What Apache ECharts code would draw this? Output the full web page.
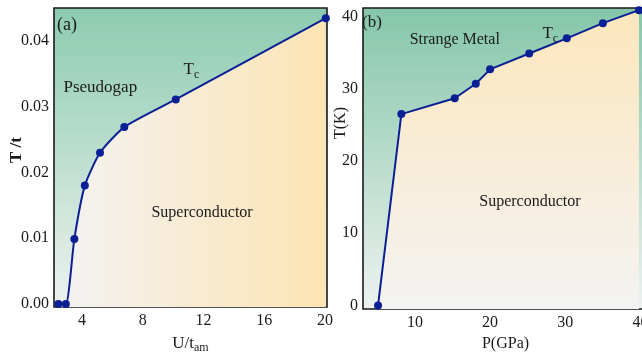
<!DOCTYPE html>
<html>
<head>
<meta charset="utf-8">
<script src="https://cdn.jsdelivr.net/npm/echarts@6/dist/echarts.min.js"></script>
<style>html,body{margin:0;padding:0;background:#fff}#c{width:642px;height:360px}</style>
</head>
<body>
<div id="c"></div>
<script>
// Panel (a)
const leftU = [2.44, 2.93, 3.49, 4.18, 5.18, 6.78, 10.17, 20.05];
const leftT = [0, 0, 0.0099, 0.018, 0.023, 0.0269, 0.0311, 0.04345];
const leftXTicks = [4, 8, 12, 16, 20];
const leftYTicks = [0, 0.01, 0.02, 0.03, 0.04];
// Panel (b)
const rightP = [5.1, 8.2, 15.3, 18.1, 20.0, 25.2, 30.2, 35.0, 39.8];
const rightT = [0, 26.5, 28.7, 30.7, 32.7, 34.9, 37.0, 39.1, 40.9];
const rightXTicks = [10, 20, 30, 40];
const rightYTicks = [0, 10, 20, 30, 40];

const FONT = 'Liberation Serif';
const TXT = '#1a1a1a';
const LINE = '#0b1f94';

const greenGrad = new echarts.graphic.LinearGradient(0, 0, 0, 1, [
  {offset: 0, color: '#8ccbb0'},
  {offset: 1, color: '#eef2f0'}
]);
const greenGrad2 = new echarts.graphic.LinearGradient(0, 0, 0, 1, [
  {offset: 0, color: '#84c6aa'},
  {offset: 1, color: '#eef2f0'}
]);
const scGradA = new echarts.graphic.LinearGradient(0, 0, 1, 0, [
  {offset: 0, color: '#f3f3f3'},
  {offset: 1, color: '#fde4b4'}
]);
const scGradB = new echarts.graphic.LinearGradient(0, 0, 0, 1, [
  {offset: 0, color: '#fde6bc'},
  {offset: 1, color: '#f3f3f3'}
]);

const tickLabel = {fontFamily: FONT, fontSize: 16, color: TXT};
const annot = (coord, text, size) => ({
  coord: coord, symbol: 'circle', symbolSize: 1,
  itemStyle: {color: 'rgba(0,0,0,0)'},
  label: {show: true, position: 'inside', formatter: text, fontFamily: FONT, fontSize: size, color: TXT,
    rich: {
      n: {fontFamily: FONT, fontSize: size, color: TXT},
      s: {fontFamily: FONT, fontSize: size * 0.7, color: TXT, padding: [10, 0, 0, 0]}
    }}
});

const option = {
  animation: false,
  grid: [
    {left: 54, top: 8, width: 273, height: 299, show: true, backgroundColor: greenGrad,
      borderColor: '#1a1a1a', borderWidth: 1.6, outerBoundsMode: 'none', containLabel: false},
    {left: 363, top: 8, width: 285, height: 301, show: true, backgroundColor: greenGrad2,
      borderColor: '#1a1a1a', borderWidth: 1.6, outerBoundsMode: 'none', containLabel: false}
  ],
  graphic: [
    {type: 'text', x: 17, y: 150, rotation: Math.PI / 2, style: {text: 'T /t', fontFamily: FONT,
      fontSize: 17, fontWeight: 'bold', fill: TXT, align: 'center', verticalAlign: 'middle'}},
    {type: 'text', x: 341, y: 123, rotation: Math.PI / 2, style: {text: 'T(K)', fontFamily: FONT,
      fontSize: 16, fill: TXT, align: 'center', verticalAlign: 'middle'}}
  ],
  xAxis: [
    {type: 'value', gridIndex: 0, min: 2.15, max: 20.13,
      axisLine: {show: false}, axisTick: {show: false}, splitLine: {show: false},
      axisLabel: Object.assign({margin: 6, customValues: leftXTicks}, tickLabel),
      name: '{n|U/t}{s|am}', nameLocation: 'middle', nameGap: 27,
      nameTextStyle: {rich: {
        n: {fontFamily: FONT, fontSize: 17, color: TXT},
        s: {fontFamily: FONT, fontSize: 12, color: TXT, padding: [8, 0, 0, 0]}
      }}},
    {type: 'value', gridIndex: 1, min: 3.1, max: 41,
      axisLine: {show: false}, axisTick: {show: false}, splitLine: {show: false},
      axisLabel: Object.assign({margin: 6, customValues: rightXTicks}, tickLabel),
      name: 'P(GPa)', nameLocation: 'middle', nameGap: 27,
      nameTextStyle: {fontFamily: FONT, fontSize: 16, color: TXT}}
  ],
  yAxis: [
    {type: 'value', gridIndex: 0, min: -0.00045, max: 0.045,
      axisLine: {show: false}, axisTick: {show: false}, splitLine: {show: false},
      axisLabel: Object.assign({margin: 5, customValues: leftYTicks,
        formatter: v => v.toFixed(2)}, tickLabel)},
    {type: 'value', gridIndex: 1, min: -0.5, max: 41.2,
      axisLine: {show: false}, axisTick: {show: false}, splitLine: {show: false},
      axisLabel: Object.assign({margin: 5, customValues: rightYTicks}, tickLabel)}
  ],
  series: [
    {type: 'line', xAxisIndex: 0, yAxisIndex: 0,
      data: leftU.map((u, i) => [u, leftT[i]]),
      smooth: 0.2,
      symbol: 'circle', symbolSize: 8,
      lineStyle: {color: LINE, width: 2}, itemStyle: {color: LINE},
      areaStyle: {origin: 'start', color: scGradA, opacity: 1},
      markPoint: {silent: true, data: [
        annot([3.0, 0.0424], '(a)', 18),
        annot([5.2, 0.0329], 'Pseudogap', 17),
        annot([11.2, 0.0356], '{n|T}{s|c}', 17),
        annot([11.9, 0.0138], 'Superconductor', 16)
      ]}},
    {type: 'line', xAxisIndex: 1, yAxisIndex: 1,
      data: rightP.map((p, i) => [p, rightT[i]]),
      symbol: 'circle', symbolSize: 8,
      lineStyle: {color: LINE, width: 2}, itemStyle: {color: LINE},
      areaStyle: {origin: 'start', color: scGradB, opacity: 1},
      markPoint: {silent: true, data: [
        annot([4.3, 39.2], '(b)', 17),
        annot([15.3, 36.8], 'Strange Metal', 16),
        annot([28.0, 37.6], '{n|T}{s|c}', 17),
        annot([25.3, 14.3], 'Superconductor', 16)
      ]}}
  ]
};
const chart = echarts.init(document.getElementById('c'), null, {renderer: 'canvas'});
chart.setOption(option);
</script>
</body>
</html>
